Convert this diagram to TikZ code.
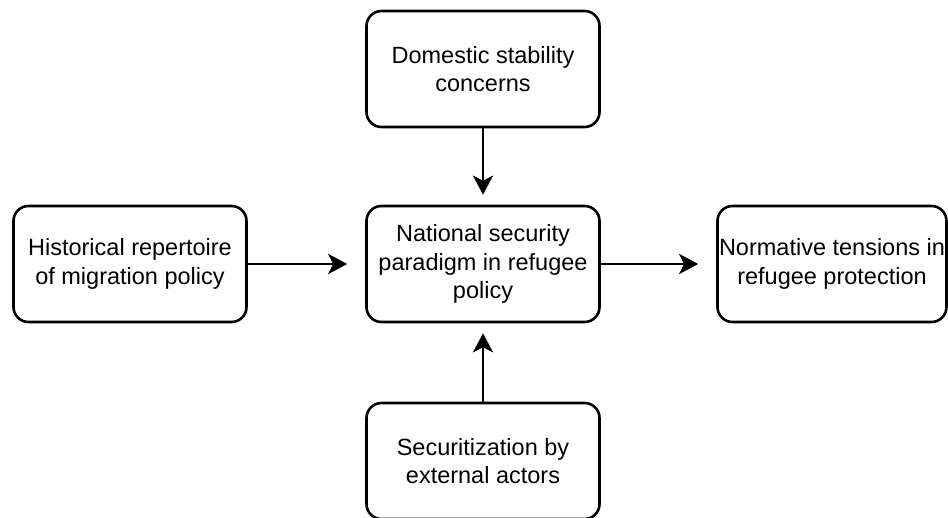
\documentclass[tikz,border=0pt]{standalone}
\usepackage{fontspec}
\setmainfont{Liberation Sans}
\usetikzlibrary{arrows.meta}
\begin{document}
\begin{tikzpicture}[x=1pt,y=1pt,
  box/.style={draw, line width=2.6pt, rounded corners=15pt, minimum width=233pt, minimum height=116pt, align=center, inner sep=0pt,
    font=\fontsize{23.5}{28.5}\selectfont},
  conn/.style={line width=2.8pt, -{Stealth[length=19pt,width=20pt,inset=5pt]}}]
\useasboundingbox (0,0) rectangle (948,-518);
\node[box] (top) at (483,-69) {Domestic stability\\concerns};
\node[box] (mid) at (483,-264) {National security\\paradigm in refugee\\policy};
\node[box] (left) at (130,-264) {Historical repertoire\\of migration policy};
\node[box, minimum width=229pt] (right) at (832,-264) {Normative tensions in\\refugee protection};
\node[box] (bot) at (483,-461) {Securitization by\\external actors};
\draw[conn] (top.south) -- ([yshift=10pt]mid.north);
\draw[conn] (bot.north) -- ([yshift=-10pt]mid.south);
\draw[conn] (left.east) -- ([xshift=-18pt]mid.west);
\draw[conn] (mid.east) -- ([xshift=-18pt]right.west);
\end{tikzpicture}
\end{document}
